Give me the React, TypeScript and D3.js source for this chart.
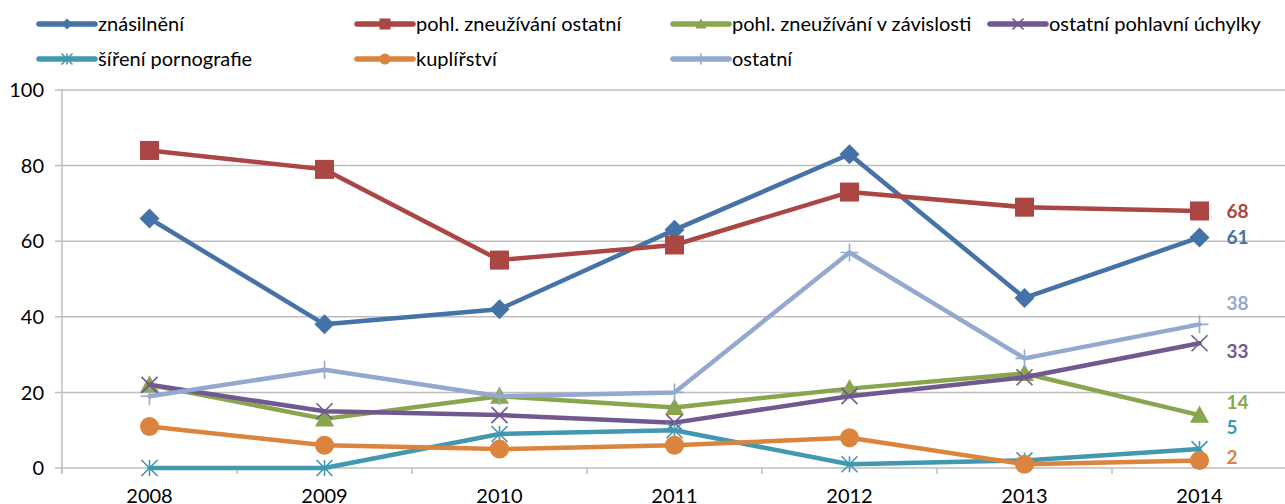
import React from 'react';
import * as d3 from 'd3';

const years = ['2008', '2009', '2010', '2011', '2012', '2013', '2014'];
const znasilneni = [66, 38, 42, 63, 83, 45, 61];
const zneuzivaniOstatni = [84, 79, 55, 59, 73, 69, 68];
const zneuzivaniZavislost = [22, 13, 19, 16, 21, 25, 14];
const ostatniUchylky = [22, 15, 14, 12, 19, 24, 33];
const sireniPornografie = [0, 0, 9, 10, 1, 2, 5];
const kuplirstvi = [11, 6, 5, 6, 8, 1, 2];
const ostatni = [19, 26, 19, 20, 57, 29, 38];
const yTicks = [0, 20, 40, 60, 80, 100];

const W = 1285;
const H = 504;
const FONT = 'Lato, "Open Sans", sans-serif';

// series in drawing order (same as legend)
const series = [
  { name: 'znásilnění', values: znasilneni, color: '#4572A7', marker: 'diamond', nudge: 0 },
  { name: 'pohl. zneužívání ostatní', values: zneuzivaniOstatni, color: '#AA4643', marker: 'square', nudge: 0 },
  { name: 'pohl. zneužívání v závislosti', values: zneuzivaniZavislost, color: '#89A54E', marker: 'triangle', nudge: -13 },
  { name: 'ostatní pohlavní úchylky', values: ostatniUchylky, color: '#71588F', marker: 'x', nudge: 8 },
  { name: 'šíření pornografie', values: sireniPornografie, color: '#4198AF', marker: 'star', nudge: -22 },
  { name: 'kuplířství', values: kuplirstvi, color: '#DB843D', marker: 'circle', nudge: -3 },
  { name: 'ostatní', values: ostatni, color: '#93A9CF', marker: 'plus', nudge: -21 },
];

// legend slots: [x of line start, row]
const legendSlots = [
  [39, 0], [357, 0], [673, 0], [990, 0],
  [39, 1], [357, 1], [673, 1],
];

const markerSize: Record<string, number> = {
  diamond: 20, square: 19, triangle: 19, circle: 19, x: 16, star: 16, plus: 18,
};

function Marker({ type, x, y, s, color }: { type: string; x: number; y: number; s: number; color: string }) {
  const h = s / 2;
  if (type === 'diamond') {
    return <path d={`M${x},${y - h}L${x + h},${y}L${x},${y + h}L${x - h},${y}Z`} fill={color} />;
  }
  if (type === 'square') {
    return <rect x={x - h} y={y - h} width={s} height={s} fill={color} />;
  }
  if (type === 'triangle') {
    return <path d={`M${x},${y - h}L${x + h},${y + h * 0.8}L${x - h},${y + h * 0.8}Z`} fill={color} />;
  }
  if (type === 'circle') {
    return <circle cx={x} cy={y} r={h} fill={color} />;
  }
  if (type === 'x') {
    return <path d={`M${x - h},${y - h}L${x + h},${y + h}M${x + h},${y - h}L${x - h},${y + h}`} stroke={color} strokeWidth={1.6} fill="none" />;
  }
  if (type === 'star') {
    return (
      <path
        d={`M${x - h},${y - h}L${x + h},${y + h}M${x + h},${y - h}L${x - h},${y + h}M${x},${y - h}L${x},${y + h}`}
        stroke={color}
        strokeWidth={1.6}
        fill="none"
      />
    );
  }
  // plus
  return <path d={`M${x - h},${y}L${x + h},${y}M${x},${y - h}L${x},${y + h}`} stroke={color} strokeWidth={1.6} fill="none" />;
}

export default function App() {
  const x = d3.scaleBand<string>().domain(years).range([62, 1287]);
  const y = d3.scaleLinear().domain([0, 100]).range([468, 90]);
  const cx = (d: string) => (x(d) ?? 0) + x.bandwidth() / 2;

  const line = d3
    .line<number>()
    .x((_, i) => cx(years[i]))
    .y((v) => y(v));

  const last = years.length - 1;

  return (
    <svg width={W} height={H} style={{ position: 'absolute', left: 0, top: 0 }} fontFamily={FONT}>
      <rect width={W} height={H} fill="#fff" />

      {/* grid */}
      {yTicks.map((t) => (
        <g key={t}>
          <line x1={55} x2={W} y1={y(t)} y2={y(t)} stroke="#BEBEBE" strokeWidth={1.5} />
          <text x={44} y={y(t)} dy="0.36em" textAnchor="end" fontSize={20} fill="#000">
            {t}
          </text>
        </g>
      ))}
      <line x1={62} x2={62} y1={y(100)} y2={y(0) + 6} stroke="#BEBEBE" strokeWidth={1.5} />
      {years.map((yr) => (
        <g key={yr}>
          <line x1={x(yr) ?? 0} x2={x(yr) ?? 0} y1={y(0)} y2={y(0) + 6} stroke="#BEBEBE" strokeWidth={1.5} />
          <text x={cx(yr)} y={496} dy="0.36em" textAnchor="middle" fontSize={20} fill="#000">
            {yr}
          </text>
        </g>
      ))}

      {/* series */}
      {series.map((s) => (
        <g key={s.name}>
          <path d={line(s.values) ?? ''} fill="none" stroke={s.color} strokeWidth={4.5} strokeLinejoin="round" strokeLinecap="round" />
          {s.values.map((v, i) => (
            <Marker key={i} type={s.marker} x={cx(years[i])} y={y(v)} s={markerSize[s.marker]} color={s.color} />
          ))}
        </g>
      ))}

      {/* end labels */}
      {series.map((s) => (
        <text
          key={s.name + '-lbl'}
          x={cx(years[last]) + 27}
          y={y(s.values[last]) + s.nudge}
          dy="0.36em"
          fontSize={19}
          fontWeight="bold"
          fill={s.color}
        >
          {s.values[last]}
        </text>
      ))}

      {/* legend */}
      {series.map((s, i) => {
        const [lx, row] = legendSlots[i];
        const ly = 24 + row * 35;
        return (
          <g key={s.name + '-leg'}>
            <line x1={lx} x2={lx + 56} y1={ly} y2={ly} stroke={s.color} strokeWidth={5.5} strokeLinecap="round" />
            <Marker type={s.marker} x={lx + 28} y={ly} s={11} color={s.color} />
            <text x={lx + 59} y={ly} dy="0.36em" fontSize={20} fill="#000">
              {s.name}
            </text>
          </g>
        );
      })}
    </svg>
  );
}
